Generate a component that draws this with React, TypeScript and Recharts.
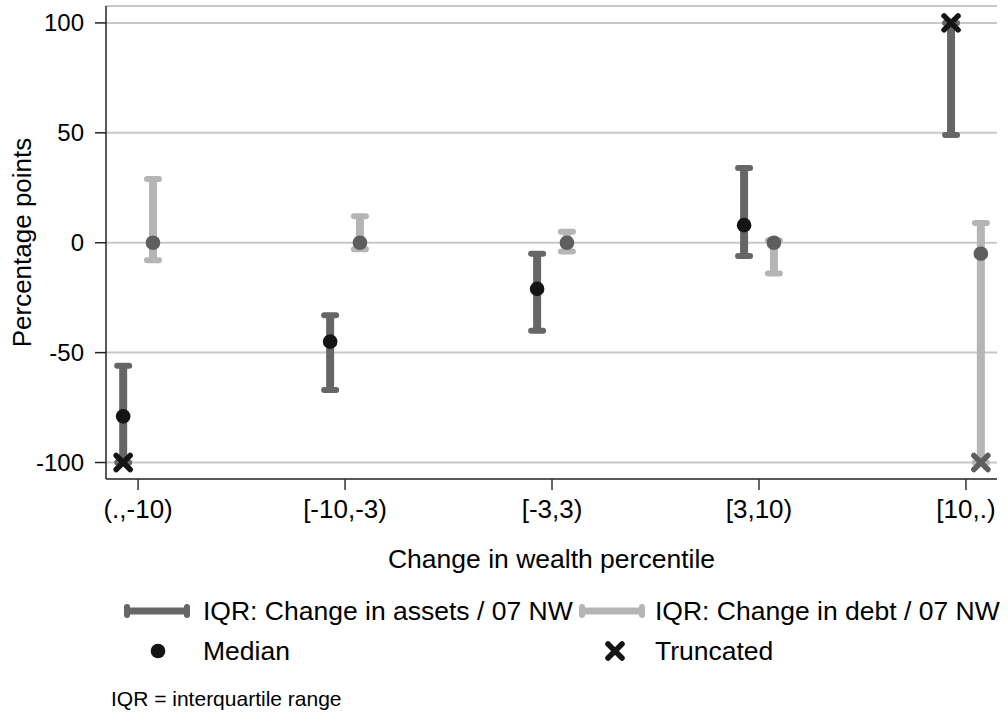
import React from 'react';
import { ComposedChart, Line, Scatter, XAxis, YAxis, CartesianGrid, Label } from 'recharts';

const categories = ['(.,-10)', '[-10,-3)', '[-3,3)', '[3,10)', '[10,.)'];
const yTicks = [-100, -50, 0, 50, 100];

// interquartile ranges, cut at +/-100
const assetsLow = [-100, -67, -40, -6, 49];
const assetsHigh = [-56, -33, -5, 34, 100];
const assetsMedian = [-79, -45, -21, 8, null];
const debtLow = [-8, -3, -4, -14, -100];
const debtHigh = [29, 12, 5, 1, 9];
const debtMedian = [0, 0, 0, 0, -5];
const assetsTruncated = [-100, null, null, null, 100];
const debtTruncated = [null, null, null, null, -100];

const SHIFT = 0.072;
const ASSETS = '#666666';
const DEBT = '#b5b5b5';
const DARK = '#141414';
const FONT = '"Liberation Sans", Arial, sans-serif';

type Pt = { x: number; y: number | null };

const rangeData = (low: number[], high: number[], shift: number): Pt[] =>
  low.flatMap((lo, i) => [
    { x: i + shift, y: lo },
    { x: i + shift, y: high[i] },
    { x: i + shift, y: null },
  ]);

const pointData = (vals: (number | null)[], shift: number): Pt[] =>
  vals
    .map((v, i) => ({ x: i + shift, y: v }))
    .filter((p) => p.y !== null);

const capDot = (color: string) => (props: any) => {
  const { cx, cy, index } = props;
  if (cy == null || props.value == null) return <g key={`c${index}`} />;
  return <rect key={`c${index}`} x={cx - 9} y={cy - 3} width={18} height={6} rx={3} fill={color} />;
};

const dotShape = (color: string) => (props: any) => (
  <circle cx={props.cx} cy={props.cy} r={7.3} fill={color} />
);

const crossShape = (color: string) => (props: any) => {
  const { cx, cy } = props;
  const d = 7;
  return (
    <g stroke={color} strokeWidth={5.5} strokeLinecap="round">
      <line x1={cx - d} y1={cy - d} x2={cx + d} y2={cy + d} />
      <line x1={cx - d} y1={cy + d} x2={cx + d} y2={cy - d} />
    </g>
  );
};

const legendText: React.CSSProperties = {
  position: 'absolute',
  fontFamily: FONT,
  fontSize: 26.5,
  lineHeight: '30px',
  color: '#000',
  whiteSpace: 'nowrap',
};

const RangeIcon = ({ color }: { color: string }) => (
  <svg width={70} height={30}>
    <line x1={4} y1={15} x2={66} y2={15} stroke={color} strokeWidth={7} />
    <rect x={2} y={8} width={6} height={14} rx={3} fill={color} />
    <rect x={62} y={8} width={6} height={14} rx={3} fill={color} />
  </svg>
);

export default function App() {
  return (
    <div style={{ position: 'absolute', left: 0, top: 0, width: 1008, height: 713, background: '#fff' }}>
      <ComposedChart
        width={1008}
        height={713}
        margin={{ top: 6, right: 11, bottom: 144, left: 0 }}
        style={{ fontFamily: FONT }}
      >
        <CartesianGrid vertical={false} stroke="#c8c8c8" strokeWidth={2} />
        <XAxis
          type="number"
          dataKey="x"
          domain={[-0.155, 4.15]}
          ticks={[0, 1, 2, 3, 4]}
          tickFormatter={(v: number) => categories[v]}
          allowDataOverflow
          height={90}
          tickSize={11}
          tickMargin={10}
          stroke="#333"
          strokeWidth={1.5}
          tick={{ fill: '#000', fontSize: 26 }}
        >
          <Label value="Change in wealth percentile" position="insideBottom" offset={1} fill="#000" fontSize={26.5} />
        </XAxis>
        <YAxis
          type="number"
          dataKey="y"
          domain={[-107.5, 107.7]}
          ticks={yTicks}
          allowDataOverflow
          width={106}
          tickSize={11}
          tickMargin={11}
          stroke="#222"
          strokeWidth={1.5}
          tick={{ fill: '#000', fontSize: 24 }}
        >
          <Label
            value="Percentage points"
            angle={-90}
            position="insideLeft"
            offset={22}
            textAnchor="middle"
            fill="#000"
            fontSize={26}
          />
        </YAxis>
        <Line
          data={rangeData(assetsLow, assetsHigh, -SHIFT)}
          dataKey="y"
          stroke={ASSETS}
          strokeWidth={8}
          dot={capDot(ASSETS)}
          activeDot={false}
          isAnimationActive={false}
        />
        <Line
          data={rangeData(debtLow, debtHigh, SHIFT)}
          dataKey="y"
          stroke={DEBT}
          strokeWidth={8}
          dot={capDot(DEBT)}
          activeDot={false}
          isAnimationActive={false}
        />
        <Scatter data={pointData(assetsMedian, -SHIFT)} shape={dotShape(DARK)} isAnimationActive={false} />
        <Scatter data={pointData(debtMedian, SHIFT)} shape={dotShape('#5e5e5e')} isAnimationActive={false} />
        <Scatter data={pointData(assetsTruncated, -SHIFT)} shape={crossShape(DARK)} isAnimationActive={false} />
        <Scatter data={pointData(debtTruncated, SHIFT)} shape={crossShape('#5e5e5e')} isAnimationActive={false} />
      </ComposedChart>

      <div style={{ position: 'absolute', left: 122, top: 596 }}>
        <RangeIcon color={ASSETS} />
      </div>
      <div style={{ ...legendText, left: 203, top: 596 }}>IQR: Change in assets / 07 NW</div>
      <div style={{ position: 'absolute', left: 577, top: 596 }}>
        <RangeIcon color={DEBT} />
      </div>
      <div style={{ ...legendText, left: 655, top: 596 }}>IQR: Change in debt / 07 NW</div>

      <svg style={{ position: 'absolute', left: 143, top: 636 }} width={30} height={30}>
        <circle cx={15} cy={15} r={7.3} fill={DARK} />
      </svg>
      <div style={{ ...legendText, left: 203, top: 636 }}>Median</div>
      <svg style={{ position: 'absolute', left: 600, top: 636 }} width={30} height={30}>
        <g stroke={DARK} strokeWidth={5.5} strokeLinecap="round">
          <line x1={8} y1={8} x2={22} y2={22} />
          <line x1={8} y1={22} x2={22} y2={8} />
        </g>
      </svg>
      <div style={{ ...legendText, left: 655, top: 636 }}>Truncated</div>

      <div style={{ ...legendText, fontSize: 21, left: 111, top: 684 }}>IQR = interquartile range</div>
    </div>
  );
}
